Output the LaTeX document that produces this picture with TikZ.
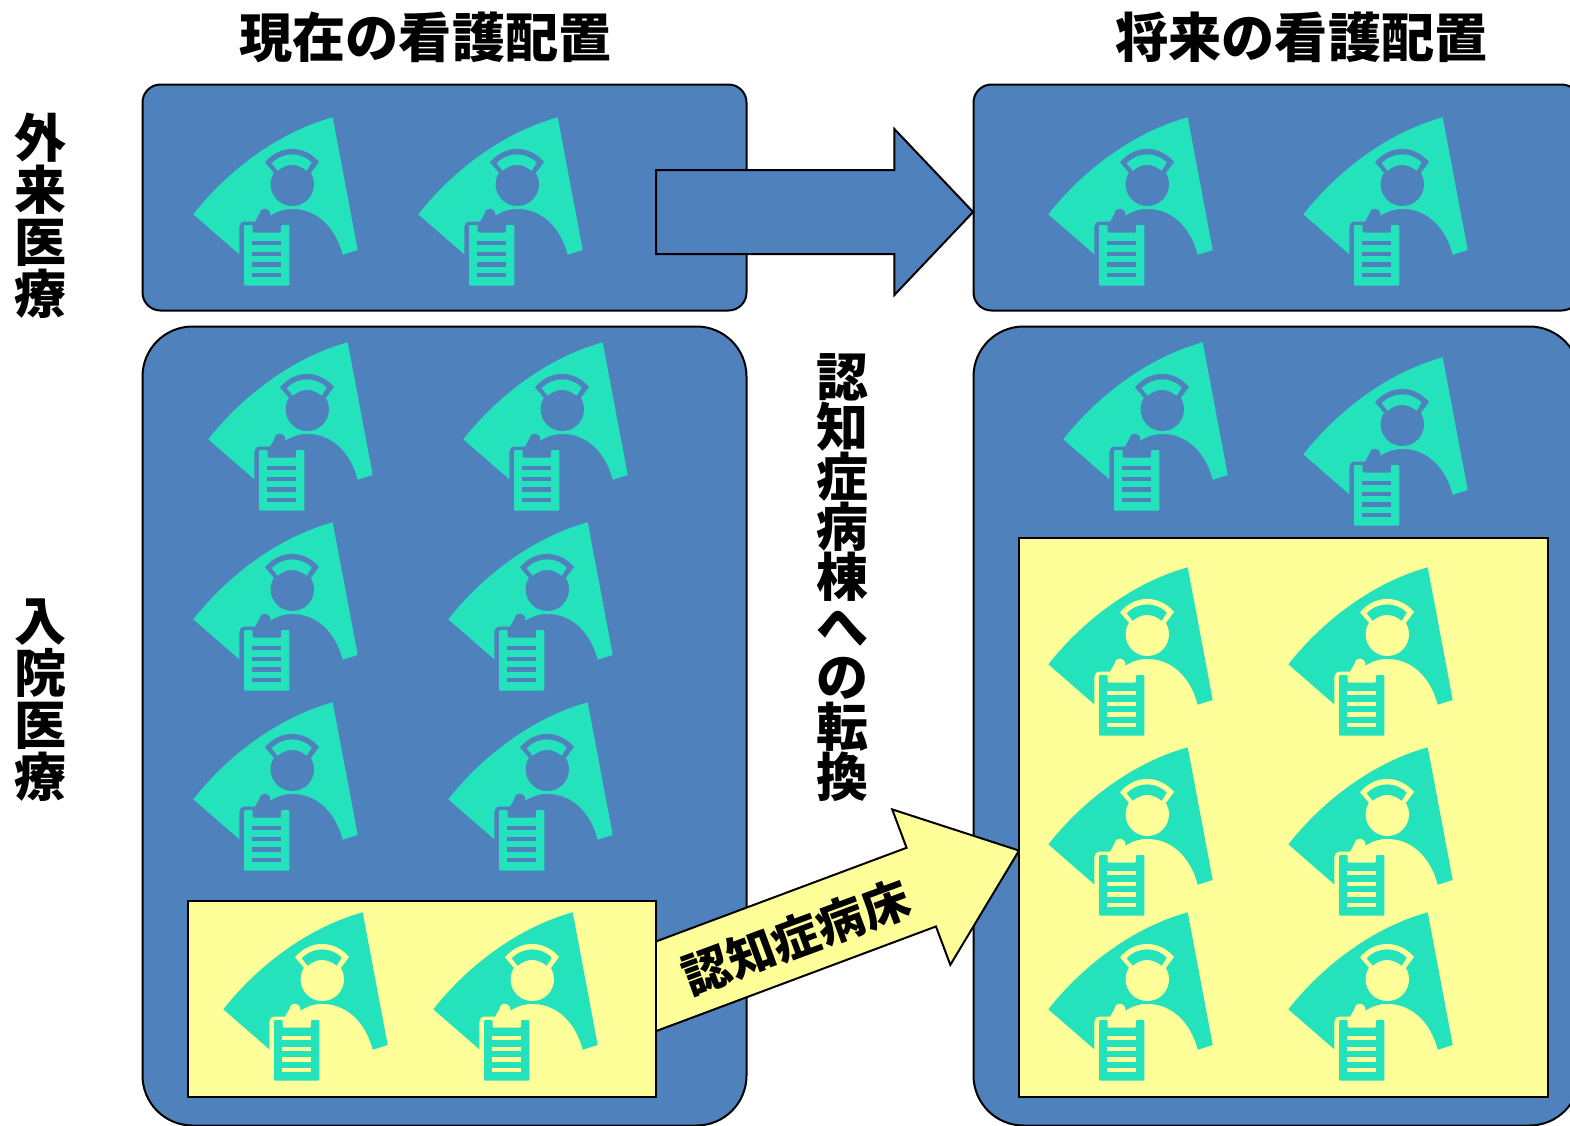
\documentclass[tikz,border=0pt]{standalone}
\usepackage{fontspec}
\newfontfamily\cjk{Noto Sans CJK JP}
\usetikzlibrary{shapes.arrows}
\definecolor{wardblue}{HTML}{4F81BD}
\definecolor{wardyellow}{HTML}{FFFF99}
\definecolor{nursegreen}{HTML}{23E2BC}
\newcommand\tightlines{\lineskiplimit=-100pt\relax}
\tikzset{
	nurse/.pic={
		\fill[nursegreen] (13.3,114.3) .. controls (50,68) and (100,32) .. (152.7,17.3) -- (177.7,150) -- (162.7,154.7)
			.. controls (155,125) and (135,109) .. (113,109) .. controls (105,108.5) and (98,111) .. (90.5,115.5)
			.. controls (91,106.5) and (80,106.5) .. (79.5,113.5) -- (75,121.5) -- (65,121.5)
			.. controls (61,121.5) and (59.3,124) .. (59.3,127) -- (59.3,154.3) -- cycle;
		\fill[#1] (112.3,84.3) circle (21.7);
		\fill[#1] (85,62.3) .. controls (100,44.5) and (124,44.5) .. (139,62) -- (130,74) -- (95,74) -- cycle;
		\fill[nursegreen] (91.7,63.3) .. controls (103,51.5) and (121,51.5) .. (131.7,62.7) -- (126.7,70.7) .. controls (117,63) and (107,63) .. (97.7,70.7) -- cycle;
		\fill[nursegreen, rounded corners=1pt] (64,125) -- (72.7,125) -- (72.7,132.7) -- (101,132.7) -- (101,125) -- (109.3,125) -- (109.3,185.7) -- (64,185.7) -- cycle;
		\foreach \ly in {140.7,151.7,162.3,173} \fill[#1] (72,\ly) rectangle (101,\ly+4.4);
	}
}
\begin{document}
\begin{tikzpicture}[x=1pt, y=-1pt, line width=2pt,
	ward/.style={draw, fill=wardblue, anchor=north west, rounded corners=#1, inner sep=0pt},
	dementia/.style={draw, fill=wardyellow, anchor=north west, inner sep=0pt},
	shiftarrow/.style={draw, single arrow, anchor=tip, single arrow head extend=41pt, inner xsep=0pt, inner ysep=41pt},
	title/.style={font=\cjk\bfseries\fontsize{53.2}{53.2}\selectfont, inner sep=0pt},
	side/.style={font=\cjk\bfseries\fontsize{52}{52}\selectfont\tightlines, align=center, inner sep=0pt},
	turn/.style={font=\cjk\bfseries\fontsize{52}{50}\selectfont\tightlines, align=center, inner sep=0pt}]
	\clip (0,0) rectangle (1570,1125);

	\node[title] (now_title) at (425.5,37) {現在の看護配置};
	\node[title] (future_title) at (1301.5,37) {将来の看護配置};
	\node[side] (outpatient) at (40,216) {外\\来\\医\\療};
	\node[side] (inpatient) at (40,700) {入\\院\\医\\療};
	\node[turn] (turn_label) at (842.5,578) {認\\知\\症\\病\\棟\\へ\\の\\転\\換};

	\node[ward=18pt, minimum width=604pt, minimum height=226pt] (A) at (141.5,83.5) {};
	\node[ward=50pt, minimum width=604pt, minimum height=799pt] (B) at (141.5,325.5) {};
	\node[ward=18pt, minimum width=606pt, minimum height=226pt] (C) at (972.5,83.5) {};
	\node[ward=50pt, minimum width=606pt, minimum height=799pt] (D) at (972.5,325.5) {};

	\foreach \x/\y in {180/100,405/100,1035/100,1290/100,195/325,450/325,180/505,435/505,180/685,435/685,1050/325,1290/340}
		\pic at (\x,\y) {nurse=wardblue};

	\node[shiftarrow, fill=wardblue, minimum height=317pt, single arrow tip angle=93] (A_to_C) at (974.5,212) {};
	\node[shiftarrow, fill=wardyellow, minimum height=430pt, rotate=20.5, single arrow tip angle=77] (B_to_D) at (1020.5,850) {};
	\node[font=\cjk\bfseries\fontsize{47.5}{48}\selectfont, rotate=20.3, inner sep=0pt] (arrow_label) at (796,937) {認知症病床};

	\node[dementia, minimum width=468pt, minimum height=196pt] (E) at (186.5,899.5) {};
	\node[dementia, minimum width=529pt, minimum height=559.5pt] (F) at (1017.5,536.5) {};

	\foreach \x/\y in {210/895,420/895,1035/550,1275/550,1035/730,1275/730,1035/895,1275/895}
		\pic at (\x,\y) {nurse=wardyellow};
\end{tikzpicture}
\end{document}
